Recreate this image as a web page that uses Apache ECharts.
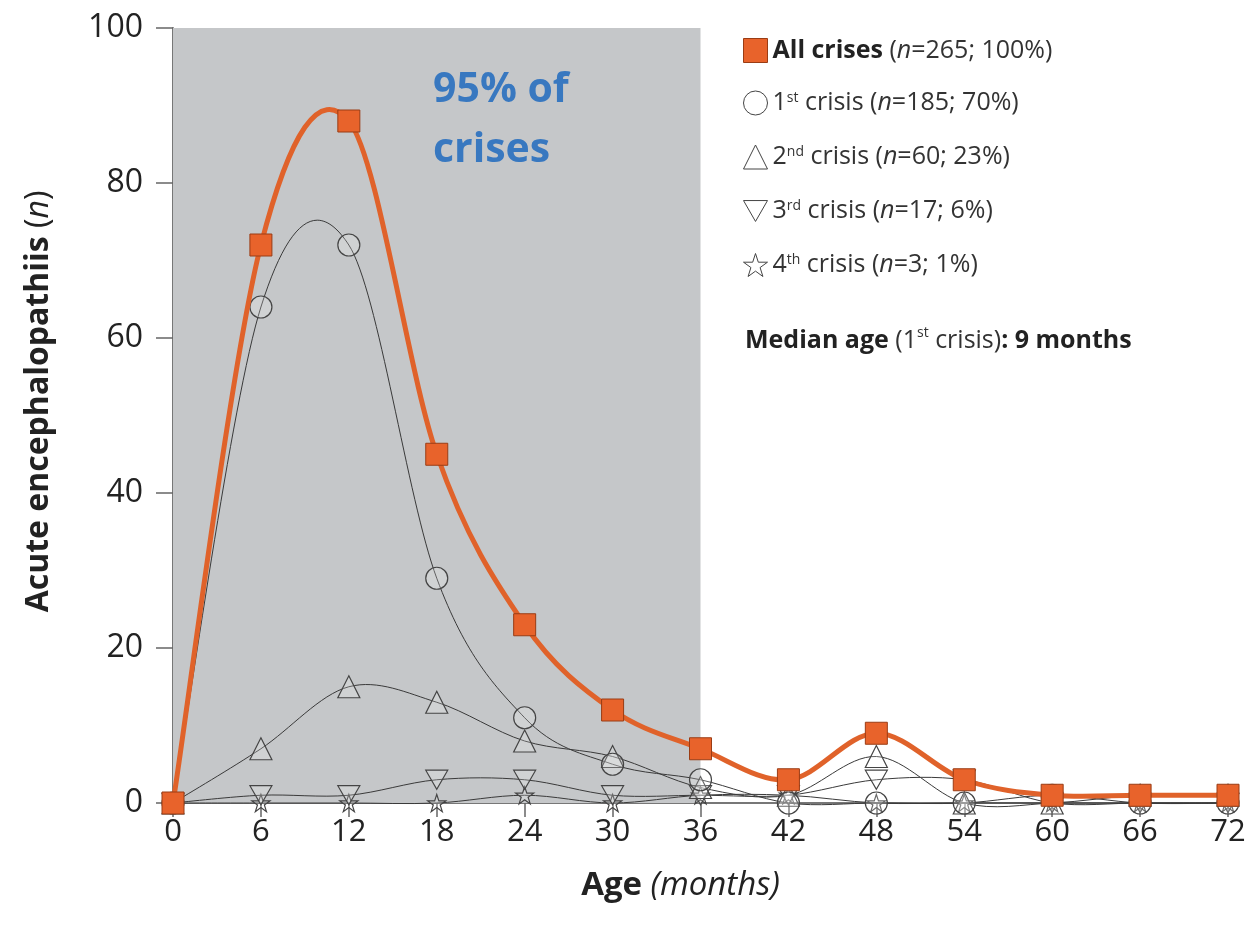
<!DOCTYPE html>
<html>
<head>
<meta charset="utf-8">
<script src="https://cdn.jsdelivr.net/npm/echarts@6/dist/echarts.min.js"></script>
<style>
html,body{margin:0;padding:0;background:#fff;}
#chart{width:1255px;height:931px;}
</style>
</head>
<body>
<div id="chart"></div>
<script>
// ---- Data ----
var ages = [0, 6, 12, 18, 24, 30, 36, 42, 48, 54, 60, 66, 72];
var allCrises = [0, 72, 88, 45, 23, 12, 7, 3, 9, 3, 1, 1, 1];
var crisis1 = [0, 64, 72, 29, 11, 5, 3, 0, 0, 0, 1, 0, 0];
var crisis2 = [0, 7, 15, 13, 8, 6, 2, 1, 6, 0, 0, 1, 1];
var crisis3 = [0, 1, 1, 3, 3, 1, 1, 1, 3, 3, 0, 0, 0];
var crisis4 = [0, 0, 0, 0, 1, 0, 1, 1, 0, 0, 0, 0, 0];
var yTicks = [0, 20, 40, 60, 80, 100];
var shadeRange = [0, 36];
var seriesNames = ['All crises', '1st crisis', '2nd crisis', '3rd crisis', '4th crisis'];

function pairs(vals) { return ages.map(function (a, i) { return [a, vals[i]]; }); }

var FONT = '"Open Sans", "Liberation Sans", sans-serif';
var downTri = 'path://M0,0 L100,0 L50,87 Z';
var star = 'path://M50,2 L61,36 L97,36 L68,57 L79,92 L50,71 L21,92 L32,57 L3,36 L39,36 Z';

// Smooth curve (Catmull-Rom style bezier, like spreadsheet smoothed lines), drawn via axis scales
function curve(vals, color, width, z) {
  return {
    type: 'custom', data: pairs(vals), z: z, silent: true,
    encode: { x: 0, y: 1 },
    renderItem: function (params, api) {
      var i = params.dataIndex;
      var n = ages.length;
      if (i >= n - 1) return null;
      var P = function (k) { k = Math.max(0, Math.min(n - 1, k)); return api.coord([ages[k], vals[k]]); };
      var p0 = P(i - 1), p1 = P(i), p2 = P(i + 1), p3 = P(i + 2);
      return {
        type: 'bezierCurve', silent: true,
        shape: {
          x1: p1[0], y1: p1[1], x2: p2[0], y2: p2[1],
          cpx1: p1[0] + (p2[0] - p0[0]) / 6, cpy1: p1[1] + (p2[1] - p0[1]) / 6,
          cpx2: p2[0] - (p3[0] - p1[0]) / 6, cpy2: p2[1] - (p3[1] - p1[1]) / 6
        },
        style: { stroke: color, lineWidth: width, fill: null }
      };
    }
  };
}

function markers(name, vals, symbol, size, z) {
  return {
    name: name, type: 'line', data: pairs(vals),
    symbol: symbol, symbolSize: size, symbolKeepAspect: true, showAllSymbol: true,
    lineStyle: { opacity: 0 },
    itemStyle: { color: 'rgba(255,255,255,0.2)', borderColor: '#444', borderWidth: 1.2 },
    z: z
  };
}

var legendText = {
  'All crises': '{b|All crises}{r| (}{i|n}{r|=265; 100%)}',
  '1st crisis': '{r|1}{s|st}{r| crisis (}{i|n}{r|=185; 70%)}',
  '2nd crisis': '{r|2}{s|nd}{r| crisis (}{i|n}{r|=60; 23%)}',
  '3rd crisis': '{r|3}{s|rd}{r| crisis (}{i|n}{r|=17; 6%)}',
  '4th crisis': '{r|4}{s|th}{r| crisis (}{i|n}{r|=3; 1%)}'
};

var chart = echarts.init(document.getElementById('chart'));
var allMarkers = markers(seriesNames[0], allCrises, 'rect', 22, 10);
allMarkers.itemStyle = { color: '#E8632B', borderColor: '#9a3c14', borderWidth: 1 };
allMarkers.markArea = {
  silent: true,
  itemStyle: { color: '#c5c7c9' },
  data: [[{ coord: [shadeRange[0], 0] }, { coord: [shadeRange[1], 100] }]]
};

chart.setOption({
  backgroundColor: '#fff',
  animation: false,
  grid: { left: 173, right: 27, top: 28, bottom: 128 },
  xAxis: {
    type: 'value', min: 0, max: 72, interval: 6,
    name: '{b|Age}{i| (months)}', nameLocation: 'middle', nameGap: 66,
    nameTextStyle: {
      padding: [0, 40, 0, 0],
      rich: {
        b: { fontFamily: FONT, fontSize: 33, fontWeight: 'bold', color: '#222' },
        i: { fontFamily: FONT, fontSize: 33, fontStyle: 'italic', color: '#222' }
      }
    },
    axisLine: { onZero: false, lineStyle: { color: '#777', width: 2 } },
    axisTick: { show: true, length: 14, lineStyle: { color: '#666', width: 1.5 } },
    axisLabel: { fontFamily: FONT, fontSize: 31, color: '#222', margin: 14 },
    splitLine: { show: false }
  },
  yAxis: {
    type: 'value', min: 0, max: 100, interval: 20,
    name: '{b|Acute encephalopathiis}{r| (}{i|n}{r|)}', nameLocation: 'middle', nameGap: 118,
    nameTextStyle: {
      padding: [0, 0, 0, 28],
      rich: {
        b: { fontFamily: FONT, fontSize: 32, fontWeight: 'bold', color: '#222' },
        r: { fontFamily: FONT, fontSize: 32, color: '#222' },
        i: { fontFamily: FONT, fontSize: 32, fontStyle: 'italic', color: '#222' }
      }
    },
    axisLine: { show: true, lineStyle: { color: '#777', width: 2 } },
    axisTick: { show: true, length: 17, lineStyle: { color: '#666', width: 1.5 } },
    axisLabel: {
      fontFamily: FONT, fontSize: 32, color: '#222', margin: 30,
      formatter: function (v) { return yTicks.indexOf(v) >= 0 ? String(v) : ''; }
    },
    splitLine: { show: false }
  },
  legend: {
    orient: 'vertical', left: 738, top: 33, itemGap: 27.5, itemWidth: 24, itemHeight: 24,
    selectedMode: false,
    data: [
      { name: seriesNames[0], icon: 'rect', itemStyle: { color: '#E8632B', borderColor: '#9a3c14', borderWidth: 1 } },
      { name: seriesNames[1], icon: 'circle', itemStyle: { color: '#fff', borderColor: '#444', borderWidth: 1 } },
      { name: seriesNames[2], icon: 'triangle', itemStyle: { color: '#fff', borderColor: '#444', borderWidth: 1 } },
      { name: seriesNames[3], icon: downTri, itemStyle: { color: '#fff', borderColor: '#444', borderWidth: 1 } },
      { name: seriesNames[4], icon: star, itemStyle: { color: '#fff', borderColor: '#444', borderWidth: 1 } }
    ],
    formatter: function (n) { return legendText[n]; },
    textStyle: {
      fontFamily: FONT, fontSize: 25, color: '#333', lineHeight: 24,
      rich: {
        b: { fontFamily: FONT, fontSize: 25, fontWeight: 'bold', color: '#222', lineHeight: 24 },
        r: { fontFamily: FONT, fontSize: 25, color: '#333', lineHeight: 24 },
        i: { fontFamily: FONT, fontSize: 25, fontStyle: 'italic', color: '#333', lineHeight: 24 },
        s: { fontFamily: FONT, fontSize: 14, color: '#333', verticalAlign: 'top', lineHeight: 24, padding: [0, 0, 12, 0] }
      }
    }
  },
  graphic: [
    {
      type: 'text', left: 433, top: 60, z: 20,
      style: {
        text: '95% of\ncrises', fill: '#3878C0', font: 'bold 41px ' + FONT, lineHeight: 60
      }
    },
    {
      type: 'text', left: 745, top: 326, z: 20,
      style: {
        text: '{b|Median age}{r| (1}{s|st}{r| crisis)}{b|: 9 months}',
        rich: {
          b: { fontFamily: FONT, fontSize: 25, fontWeight: 'bold', fill: '#222', lineHeight: 30 },
          r: { fontFamily: FONT, fontSize: 25, fill: '#333', lineHeight: 30 },
          s: { fontFamily: FONT, fontSize: 14, fill: '#333', verticalAlign: 'top', lineHeight: 30, padding: [0, 0, 12, 0] }
        }
      }
    }
  ],
  series: [
    allMarkers,
    markers(seriesNames[1], crisis1, 'circle', 22, 6),
    markers(seriesNames[2], crisis2, 'triangle', 22, 5),
    markers(seriesNames[3], crisis3, downTri, 22, 4),
    markers(seriesNames[4], crisis4, star, 18, 3),
    curve(allCrises, '#E0622A', 5, 8),
    curve(crisis1, '#3a3a3a', 1, 2),
    curve(crisis2, '#3a3a3a', 1, 2),
    curve(crisis3, '#3a3a3a', 1, 2),
    curve(crisis4, '#3a3a3a', 1, 2)
  ]
});
</script>
</body>
</html>
